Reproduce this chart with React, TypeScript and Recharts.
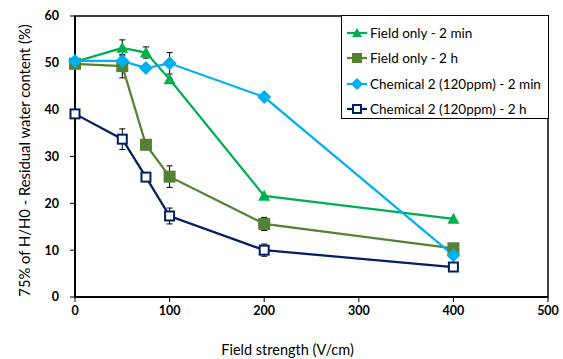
import React from 'react';
import { LineChart, Line, XAxis, YAxis, ErrorBar, Legend, ReferenceArea } from 'recharts';

const fieldStrength = [0, 50, 75, 100, 200, 400];
const fieldOnly2min = [50.2, 53.2, 52.2, 46.5, 21.6, 16.7];
const fieldOnly2minErr = [0, 1.7, 1.2, 0, 0, 0];
const fieldOnly2h = [49.8, 49.3, 32.5, 25.7, 15.6, 10.4];
const fieldOnly2hErr = [0, 2.5, 0, 2.3, 1.4, 0];
const chem2min = [50.4, 50.4, 48.9, 49.9, 42.7, 8.9];
const chem2minErr = [0, 0, 0, 2.3, 0, 0];
const chem2h = [39.1, 33.7, 25.6, 17.3, 10.0, 6.4];
const chem2hErr = [0, 2.2, 0, 1.7, 1.3, 0.6];
const xTicks = [0, 100, 200, 300, 400, 500];
const yTicks = [0, 10, 20, 30, 40, 50, 60];

const seriesNames = [
  'Field only - 2 min',
  'Field only - 2 h',
  'Chemical 2 (120ppm) - 2 min',
  'Chemical 2 (120ppm) - 2 h',
];

const build = (ys: number[], errs: number[]) =>
  fieldStrength.map((x, i) => ({ x, y: ys[i], err: errs[i] }));

const FONT = 'Lato, "Open Sans", sans-serif';
const GREEN = '#00B050';
const OLIVE = '#548235';
const BLUE = '#00B0F0';
const NAVY = '#002060';

type Shape = 'triangle' | 'square' | 'diamond' | 'open';

const marker = (shape: Shape, cx: number, cy: number, color: string, key?: any) => {
  if (shape === 'triangle') {
    return <path key={key} d={`M${cx},${cy - 6} L${cx + 6},${cy + 5} L${cx - 6},${cy + 5} Z`} fill={color} />;
  }
  if (shape === 'square') {
    return <rect key={key} x={cx - 6} y={cy - 6} width={12} height={12} fill={color} />;
  }
  if (shape === 'diamond') {
    return <path key={key} d={`M${cx},${cy - 7} L${cx + 7},${cy} L${cx},${cy + 7} L${cx - 7},${cy} Z`} fill={color} />;
  }
  return <rect key={key} x={cx - 4.5} y={cy - 4.5} width={9} height={9} fill="white" stroke={color} strokeWidth={2} />;
};

const dotFn = (shape: Shape, color: string) => (props: any) =>
  marker(shape, props.cx, props.cy, color, props.key ?? `${shape}-${props.index}`);

const legendItems: { name: string; color: string; shape: Shape }[] = [
  { name: seriesNames[0], color: GREEN, shape: 'triangle' },
  { name: seriesNames[1], color: OLIVE, shape: 'square' },
  { name: seriesNames[2], color: BLUE, shape: 'diamond' },
  { name: seriesNames[3], color: NAVY, shape: 'open' },
];

const LegendBox = () => (
  <div
    style={{
      width: 208,
      height: 104,
      boxSizing: 'border-box',
      border: '1px solid #000',
      background: '#fff',
      paddingTop: 4,
    }}
  >
    {legendItems.map((it) => (
      <div key={it.name} style={{ display: 'flex', alignItems: 'center', height: 25.5 }}>
        <svg width={26} height={16} style={{ marginLeft: 3 }}>
          <line x1={2} y1={8} x2={22} y2={8} stroke={it.color} strokeWidth={2.25} />
          {it.shape === 'open'
            ? <rect x={8} y={4} width={8} height={8} fill="white" stroke={it.color} strokeWidth={2} />
            : it.shape === 'square'
            ? <rect x={7} y={3} width={10} height={10} fill={it.color} />
            : it.shape === 'diamond'
            ? <path d="M12,2 L18,8 L12,14 L6,8 Z" fill={it.color} />
            : <path d="M12,3 L17,12 L7,12 Z" fill={it.color} />}
        </svg>
        <span style={{ fontFamily: FONT, fontSize: 13.5, fontWeight: 400, color: '#000', whiteSpace: 'nowrap', marginLeft: -1 }}>
          {it.name}
        </span>
      </div>
    ))}
  </div>
);

export default function App() {
  return (
    <div style={{ position: 'absolute', left: 0, top: 0 }}>
      <LineChart width={563} height={359} margin={{ top: 16, right: 15, bottom: 0, left: 0 }}>
        <ReferenceArea x1={0} x2={500} y1={0} y2={60} fill="none" stroke="#000" strokeWidth={1.5} ifOverflow="visible" />
        <XAxis
          type="number"
          dataKey="x"
          domain={[0, 500]}
          ticks={xTicks}
          height={62}
          tickSize={5}
          tickMargin={4}
          axisLine={{ stroke: '#000', strokeWidth: 2 }}
          tickLine={{ stroke: '#000', strokeWidth: 1 }}
          tick={{ fill: '#000', fontFamily: FONT, fontSize: 12.5, fontWeight: 700 }}
          label={{ value: 'Field strength (V/cm)', position: 'insideBottom', offset: 4, dx: -24, style: { fill: '#000', fontFamily: FONT, fontSize: 14.5, fontWeight: 400 } }}
          allowDuplicatedCategory={false}
        />
        <YAxis
          type="number"
          domain={[0, 60]}
          ticks={yTicks}
          width={75}
          tickSize={5}
          tickMargin={11}
          axisLine={{ stroke: '#000', strokeWidth: 2 }}
          tickLine={{ stroke: '#000', strokeWidth: 1 }}
          tick={{ fill: '#000', fontFamily: FONT, fontSize: 12.5, fontWeight: 700 }}
          label={{ value: '75% of H/H0 - Residual water content (%)', angle: -90, position: 'insideLeft', offset: 25, dy: 4, style: { fill: '#000', fontFamily: FONT, fontSize: 14.8, fontWeight: 400, textAnchor: 'middle' } }}
        />
        <Legend
          layout="vertical"
          align="center"
          verticalAlign="middle"
          wrapperStyle={{ position: 'absolute', left: 341, top: 15, width: 208, height: 104 }}
          content={() => <LegendBox />}
        />
        <Line data={build(fieldOnly2min, fieldOnly2minErr)} dataKey="y" name={seriesNames[0]} stroke={GREEN} strokeWidth={2.25} dot={dotFn('triangle', GREEN)} isAnimationActive={false}>
          <ErrorBar dataKey="err" direction="y" width={3} stroke="#000" strokeWidth={1} isAnimationActive={false} />
        </Line>
        <Line data={build(fieldOnly2h, fieldOnly2hErr)} dataKey="y" name={seriesNames[1]} stroke={OLIVE} strokeWidth={2.25} dot={dotFn('square', OLIVE)} isAnimationActive={false}>
          <ErrorBar dataKey="err" direction="y" width={3} stroke="#000" strokeWidth={1} isAnimationActive={false} />
        </Line>
        <Line data={build(chem2min, chem2minErr)} dataKey="y" name={seriesNames[2]} stroke={BLUE} strokeWidth={2.25} dot={dotFn('diamond', BLUE)} isAnimationActive={false}>
          <ErrorBar dataKey="err" direction="y" width={3} stroke="#000" strokeWidth={1} isAnimationActive={false} />
        </Line>
        <Line data={build(chem2h, chem2hErr)} dataKey="y" name={seriesNames[3]} stroke={NAVY} strokeWidth={2.25} dot={dotFn('open', NAVY)} isAnimationActive={false}>
          <ErrorBar dataKey="err" direction="y" width={3} stroke="#000" strokeWidth={1} isAnimationActive={false} />
        </Line>
      </LineChart>
    </div>
  );
}
